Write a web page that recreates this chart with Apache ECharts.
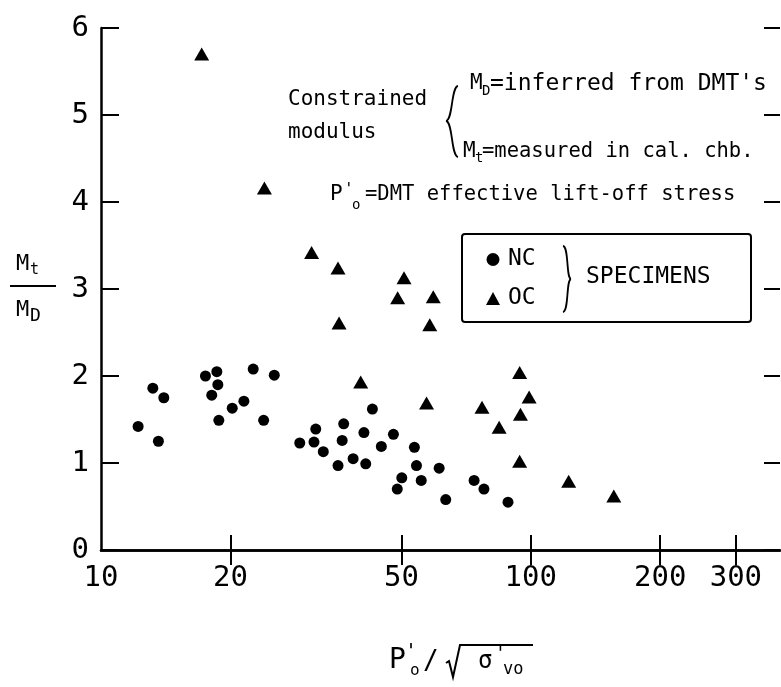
<!DOCTYPE html>
<html>
<head>
<meta charset="utf-8">
<title>Mt/MD vs P'o</title>
<script src="https://cdn.jsdelivr.net/npm/echarts@6/dist/echarts.min.js"></script>
<style>
  html, body { margin: 0; padding: 0; background: #fff; }
  #chart { width: 781px; height: 687px; }
</style>
</head>
<body>
<div id="chart"></div>
<script>
    // values (x on log scale)
    var ncX = [12.2, 13.2, 14.0, 13.6, 17.5, 18.6, 18.7, 18.1, 18.8, 20.2, 21.5, 22.6, 25.3, 23.9,
               29.0, 31.6, 31.3, 32.9, 35.6, 36.7, 40.9, 36.4, 38.6, 41.3, 42.8, 44.9, 47.9,
               53.6, 54.2, 50.1, 48.9, 55.6, 61.2, 63.4, 73.8, 77.8, 88.5];
    var ncY = [1.42, 1.86, 1.75, 1.25, 2.00, 2.05, 1.90, 1.78, 1.49, 1.63, 1.71, 2.08, 2.01, 1.49,
               1.23, 1.39, 1.24, 1.13, 0.97, 1.45, 1.35, 1.26, 1.05, 0.99, 1.62, 1.19, 1.33,
               1.18, 0.97, 0.83, 0.70, 0.80, 0.94, 0.58, 0.80, 0.70, 0.55];
    var ocX = [17.15, 24.0, 30.9, 35.6, 35.8, 50.7, 49.0, 59.3, 58.2, 40.2, 57.2, 94.2, 99.1,
               77.0, 94.6, 84.4, 94.2, 122.5, 156];
    var ocY = [5.70, 4.16, 3.42, 3.24, 2.61, 3.13, 2.90, 2.91, 2.59, 1.93, 1.69, 2.04, 1.76,
               1.64, 1.56, 1.41, 1.02, 0.79, 0.62];
    var xLabels = [10, 20, 50, 100, 200, 300];
    var xTicks = [20, 50, 100, 200, 300];

    var MONO = 'DejaVu Sans Mono';
    var INK = '#000';

    function pairs(xs, ys) {
        var out = [];
        for (var i = 0; i < xs.length; i++) out.push([xs[i], ys[i]]);
        return out;
    }
    function txt(x, y, s, size, extra) {
        var st = { text: s, fontFamily: MONO, fontSize: size, fill: INK, align: 'left', verticalAlign: 'middle' };
        for (var k in (extra || {})) st[k] = extra[k];
        return { type: 'text', x: x, y: y, z: 10, style: st };
    }
    function curve(x1, y1, c1x, c1y, c2x, c2y, x2, y2) {
        return { type: 'bezierCurve', z: 10,
            shape: { x1: x1, y1: y1, cpx1: c1x, cpy1: c1y, cpx2: c2x, cpy2: c2y, x2: x2, y2: y2 },
            style: { stroke: INK, lineWidth: 1.8, fill: null } };
    }

    var chart = echarts.init(document.getElementById('chart'));

    var axisLineStyle = { lineStyle: { color: INK, width: 2.5 } };

    var option = {
        animation: false,
        backgroundColor: '#fff',
        grid: { left: 101, right: 1, top: 28, bottom: 137 },
        legend: {
            data: ['NC', 'OC'],
            orient: 'vertical',
            left: 481, top: 243,
            itemWidth: 14, itemHeight: 13, itemGap: 16,
            selectedMode: false,
            textStyle: { fontFamily: MONO, fontSize: 23, color: INK, padding: [0, 0, 0, 3] }
        },
        xAxis: [{
            type: 'log', logBase: 10, min: 10, max: 380,
            position: 'bottom',
            axisLine: axisLineStyle,
            splitLine: { show: false },
            axisTick: { inside: true, length: 15, customValues: xTicks, lineStyle: { color: INK, width: 2 } },
            axisLabel: { customValues: xLabels, margin: 14, fontFamily: MONO, fontSize: 29, color: INK }
        }, {
            type: 'log', logBase: 10, min: 10, max: 380,
            position: 'top',
            axisLine: axisLineStyle,
            splitLine: { show: false },
            axisTick: { inside: true, length: 15, customValues: xTicks, lineStyle: { color: INK, width: 2 } },
            axisLabel: { show: false }
        }],
        yAxis: [{
            type: 'value', min: 0, max: 6, interval: 1,
            position: 'left',
            axisLine: { show: true, lineStyle: { color: INK, width: 2.5 } },
            splitLine: { show: false },
            axisTick: { inside: true, length: 18, lineStyle: { color: INK, width: 2 } },
            axisLabel: { margin: 12, fontFamily: MONO, fontSize: 29, color: INK }
        }, {
            type: 'value', min: 0, max: 6, interval: 1,
            position: 'right',
            axisLine: { show: false },
            splitLine: { show: false },
            axisTick: { show: true, inside: true, length: 16, lineStyle: { color: INK, width: 2 } },
            axisLabel: { show: false }
        }],
        series: [{
            name: 'NC',
            type: 'scatter',
            symbol: 'circle',
            symbolSize: 11,
            itemStyle: { color: INK, opacity: 1 },
            data: pairs(ncX, ncY)
        }, {
            name: 'OC',
            type: 'scatter',
            symbol: 'triangle',
            symbolSize: [15, 13],
            itemStyle: { color: INK, opacity: 1 },
            data: pairs(ocX, ocY)
        }],
        graphic: [
            // y axis name: Mt / MD
            txt(16, 264, 'M', 22),
            txt(30, 270, 't', 15),
            { type: 'line', z: 10, shape: { x1: 10, y1: 286, x2: 56, y2: 286 }, style: { stroke: INK, lineWidth: 2 } },
            txt(16, 310, 'M', 22),
            txt(30, 316, 'D', 18),

            // x axis name: P'o / sqrt(sigma'vo)
            txt(389, 661, 'P', 28),
            txt(405, 652, "'", 20),
            txt(410, 671, 'o', 16),
            txt(423, 662, '/', 26),
            { type: 'polyline', z: 10, shape: { points: [[446, 663], [449, 661], [453, 677], [460, 645], [533, 645]] },
              style: { stroke: INK, lineWidth: 2, fill: null } },
            txt(478, 662, 'σ', 24),
            txt(495, 654, "'", 18),
            txt(503, 670, 'vo', 17),

            // annotation block
            txt(288, 100, 'Constrained', 21),
            txt(288, 133, 'modulus', 21),
            curve(458, 86, 451, 87, 453, 120, 446, 121),
            curve(446, 121, 453, 122, 451, 156, 458, 157),
            txt(470, 84, 'M', 21),
            txt(482, 91, 'D', 14),
            txt(490, 84, "=inferred from DMT's", 23),
            txt(463, 152, 'M', 21),
            txt(475, 158, 't', 14),
            txt(482, 152, '=measured in cal. chb.', 20.5),
            txt(330, 195, 'P', 21),
            txt(344, 190, "'", 16),
            txt(352, 205, 'o', 14),
            txt(365, 195, '=DMT effective lift-off stress', 20.5),

            // legend frame
            { type: 'rect', z: 9, shape: { x: 462, y: 234, width: 289, height: 88, r: 3 },
              style: { stroke: INK, lineWidth: 2, fill: null } },
            curve(563, 246, 569, 247, 566, 278, 571, 279),
            curve(571, 279, 566, 280, 569, 311, 563, 312),
            txt(586, 277, 'SPECIMENS', 23)
        ]
    };

    chart.setOption(option);
</script>
</body>
</html>
